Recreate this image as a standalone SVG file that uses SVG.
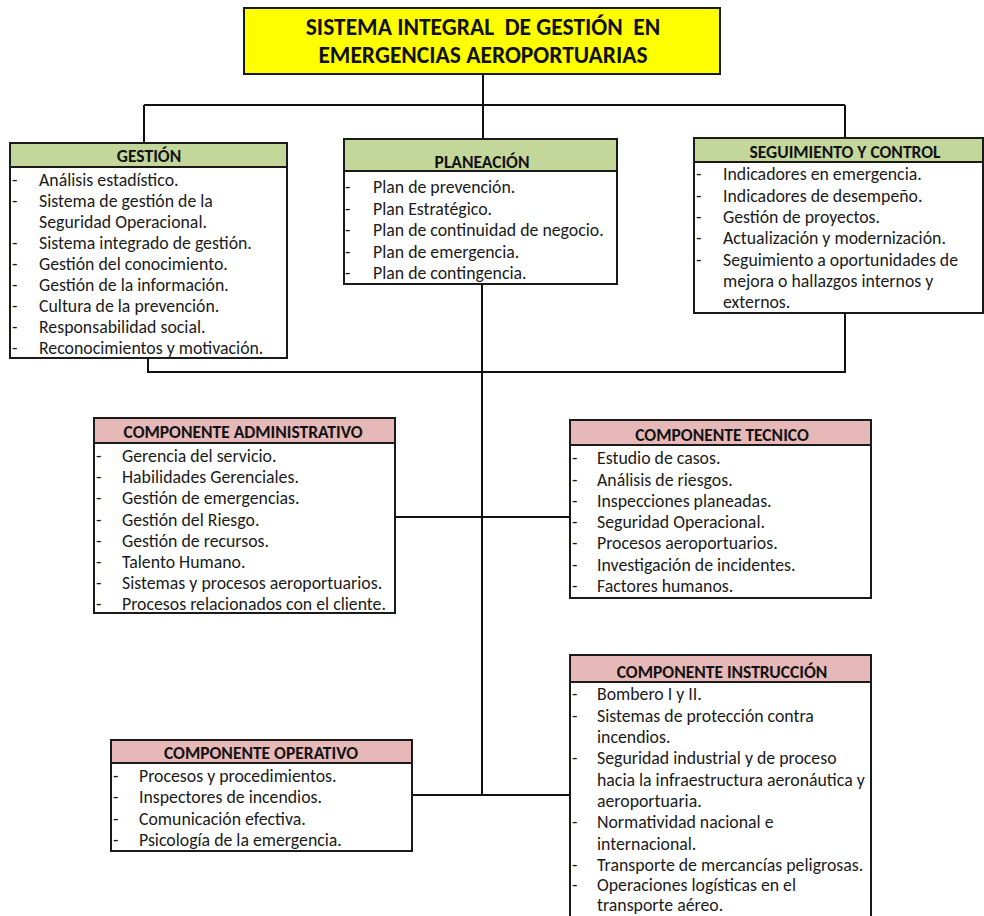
<svg xmlns="http://www.w3.org/2000/svg" width="984" height="916" viewBox="0 0 984 916">
<style>
.box{fill:#fff;stroke:#1a1a1a;stroke-width:2}
.hg{fill:#c4d79b;stroke:#1a1a1a;stroke-width:2}
.hp{fill:#e6b8b7;stroke:#1a1a1a;stroke-width:2}
.ht{font-family:Carlito,Lato,"Liberation Sans",sans-serif;font-weight:bold;font-size:17.5px;fill:#111;text-anchor:middle}
.tt{font-family:Carlito,Lato,"Liberation Sans",sans-serif;font-weight:bold;font-size:23.5px;fill:#111;text-anchor:middle}
.t{font-family:Carlito,Lato,"Liberation Sans",sans-serif;font-size:17.8px;fill:#1a1a1a}
.ln{stroke:#111;stroke-width:2;fill:none}
</style>
<rect width="984" height="916" fill="#fff"/>
<g id="connectors">
<path class="ln" d="M483 74V139M144 105H845M144 105V143M845 105V138"/>
<path class="ln" d="M482 284V795M148 358V372H845V313M395 517H570M412 795H570"/>
</g>
<g id="title">
<rect x="244" y="8" width="476" height="66" fill="#ffff00" stroke="#1a1a1a" stroke-width="2"/>
<text class="tt" x="483" y="35" xml:space="preserve">SISTEMA INTEGRAL  DE GESTIÓN  EN</text>
<text class="tt" x="483" y="63">EMERGENCIAS AEROPORTUARIAS</text>
</g>
<g id="gestion">
<rect class="box" x="10" y="143" width="277" height="215"/>
<rect class="hg" x="10" y="143" width="277" height="24"/>
<text class="ht" x="149" y="162">GESTIÓN</text>
<g class="t">
<text x="12" y="186">-</text><text x="39" y="186">Análisis estadístico.</text>
<text x="12" y="207">-</text><text x="39" y="207">Sistema de gestión de la</text>
<text x="39" y="228">Seguridad Operacional.</text>
<text x="12" y="249">-</text><text x="39" y="249">Sistema integrado de gestión.</text>
<text x="12" y="270">-</text><text x="39" y="270">Gestión del conocimiento.</text>
<text x="12" y="291">-</text><text x="39" y="291">Gestión de la información.</text>
<text x="12" y="312">-</text><text x="39" y="312">Cultura de la prevención.</text>
<text x="12" y="333">-</text><text x="39" y="333">Responsabilidad social.</text>
<text x="12" y="354">-</text><text x="39" y="354">Reconocimientos y motivación.</text>
</g>
</g>
<g id="planeacion">
<rect class="box" x="344" y="139" width="273" height="145"/>
<rect class="hg" x="344" y="139" width="273" height="32"/>
<text class="ht" x="482" y="168">PLANEACIÓN</text>
<g class="t">
<text x="345" y="193">-</text><text x="373" y="193">Plan de prevención.</text>
<text x="345" y="214.5">-</text><text x="373" y="214.5">Plan Estratégico.</text>
<text x="345" y="236">-</text><text x="373" y="236">Plan de continuidad de negocio.</text>
<text x="345" y="257.5">-</text><text x="373" y="257.5">Plan de emergencia.</text>
<text x="345" y="279">-</text><text x="373" y="279">Plan de contingencia.</text>
</g>
</g>
<g id="seguimiento">
<rect class="box" x="694" y="138" width="289" height="175"/>
<rect class="hg" x="694" y="138" width="289" height="24"/>
<text class="ht" x="845" y="158">SEGUIMIENTO Y CONTROL</text>
<g class="t">
<text x="696" y="180">-</text><text x="723" y="180">Indicadores en emergencia.</text>
<text x="696" y="201.5">-</text><text x="723" y="201.5">Indicadores de desempeño.</text>
<text x="696" y="223">-</text><text x="723" y="223">Gestión de proyectos.</text>
<text x="696" y="244">-</text><text x="723" y="244">Actualización y modernización.</text>
<text x="696" y="265.5">-</text><text x="723" y="265.5">Seguimiento a oportunidades de</text>
<text x="723" y="287">mejora o hallazgos internos y</text>
<text x="723" y="308">externos.</text>
</g>
</g>
<g id="administrativo">
<rect class="box" x="94" y="418" width="301" height="195"/>
<rect class="hp" x="94" y="418" width="301" height="25"/>
<text class="ht" x="243" y="438">COMPONENTE ADMINISTRATIVO</text>
<g class="t">
<text x="96" y="462">-</text><text x="122" y="462">Gerencia del servicio.</text>
<text x="96" y="483">-</text><text x="122" y="483">Habilidades Gerenciales.</text>
<text x="96" y="504">-</text><text x="122" y="504">Gestión de emergencias.</text>
<text x="96" y="525.5">-</text><text x="122" y="525.5">Gestión del Riesgo.</text>
<text x="96" y="546.5">-</text><text x="122" y="546.5">Gestión de recursos.</text>
<text x="96" y="567.5">-</text><text x="122" y="567.5">Talento Humano.</text>
<text x="96" y="589">-</text><text x="122" y="589">Sistemas y procesos aeroportuarios.</text>
<text x="96" y="610">-</text><text x="122" y="610">Procesos relacionados con el cliente.</text>
</g>
</g>
<g id="tecnico">
<rect class="box" x="570" y="420" width="301" height="178"/>
<rect class="hp" x="570" y="420" width="301" height="25"/>
<text class="ht" x="722" y="441">COMPONENTE TECNICO</text>
<g class="t">
<text x="572" y="464">-</text><text x="597" y="464">Estudio de casos.</text>
<text x="572" y="485.5">-</text><text x="597" y="485.5">Análisis de riesgos.</text>
<text x="572" y="506.5">-</text><text x="597" y="506.5">Inspecciones planeadas.</text>
<text x="572" y="528">-</text><text x="597" y="528">Seguridad Operacional.</text>
<text x="572" y="549">-</text><text x="597" y="549">Procesos aeroportuarios.</text>
<text x="572" y="570.5">-</text><text x="597" y="570.5">Investigación de incidentes.</text>
<text x="572" y="592">-</text><text x="597" y="592">Factores humanos.</text>
</g>
</g>
<g id="instruccion">
<rect class="box" x="570" y="655" width="301" height="280"/>
<rect class="hp" x="570" y="655" width="301" height="27"/>
<text class="ht" x="722" y="678">COMPONENTE INSTRUCCIÓN</text>
<g class="t">
<text x="572" y="700">-</text><text x="597" y="700">Bombero I y II.</text>
<text x="572" y="721.5">-</text><text x="597" y="721.5">Sistemas de protección contra</text>
<text x="597" y="743">incendios.</text>
<text x="572" y="764">-</text><text x="597" y="764">Seguridad industrial y de proceso</text>
<text x="597" y="785.5">hacia la infraestructura aeronáutica y</text>
<text x="597" y="807">aeroportuaria.</text>
<text x="572" y="828">-</text><text x="597" y="828">Normatividad nacional e</text>
<text x="597" y="849.5">internacional.</text>
<text x="572" y="870.5">-</text><text x="597" y="870.5">Transporte de mercancías peligrosas.</text>
<text x="572" y="891">-</text><text x="597" y="891">Operaciones logísticas en el</text>
<text x="597" y="911">transporte aéreo.</text>
</g>
</g>
<g id="operativo">
<rect class="box" x="111" y="740" width="301" height="111"/>
<rect class="hp" x="111" y="740" width="301" height="23"/>
<text class="ht" x="261" y="759">COMPONENTE OPERATIVO</text>
<g class="t">
<text x="113" y="782">-</text><text x="139" y="782">Procesos y procedimientos.</text>
<text x="113" y="803">-</text><text x="139" y="803">Inspectores de incendios.</text>
<text x="113" y="824.5">-</text><text x="139" y="824.5">Comunicación efectiva.</text>
<text x="113" y="846">-</text><text x="139" y="846">Psicología de la emergencia.</text>
</g>
</g>
</svg>
